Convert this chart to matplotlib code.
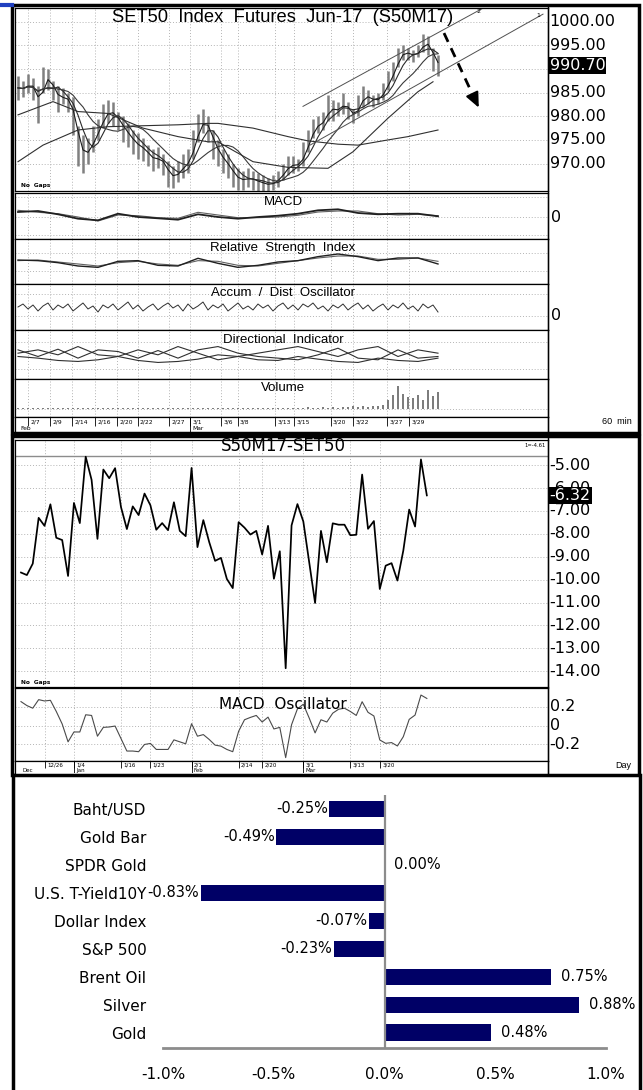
import numpy as np
import pandas as pd
import matplotlib
matplotlib.use("Agg")
import matplotlib.pyplot as plt
from matplotlib.patches import Rectangle

plt.rcParams['font.family'] = ['DejaVu Sans']

W, H = 643, 1090

# ------------------------------------------------------
# SET50 futures, 60 min chart (~2 bars a day)
bar_high = [988.5, 987.5, 989.0, 988.0, 986.5, 990.5, 990.0, 987.5, 986.5, 986.0,
            985.0, 984.0, 978.0, 976.0, 975.5, 978.0, 979.5, 982.5, 983.5, 983.0,
            981.0, 980.0, 978.5, 977.0, 976.5, 975.5, 974.0, 973.0, 973.5, 972.0,
            970.5, 969.5, 970.5, 972.0, 973.0, 977.0, 980.5, 981.5, 980.0, 977.0,
            975.0, 973.0, 972.0, 970.0, 969.0, 968.5, 969.0, 968.5, 968.0, 967.5,
            967.0, 967.5, 968.5, 970.0, 971.5, 971.5, 971.0, 974.5, 977.0, 979.5,
            980.0, 981.0, 984.5, 983.5, 983.0, 985.0, 983.0, 981.5, 984.5, 986.5,
            985.5, 984.5, 985.0, 987.0, 989.5, 991.5, 994.5, 995.0, 994.5, 994.0,
            995.0, 997.5, 997.0, 994.5, 993.0]
bar_low = [983.5, 984.0, 985.0, 983.5, 978.5, 985.0, 985.5, 983.5, 981.0, 982.5,
           981.0, 976.0, 969.5, 968.0, 970.0, 972.5, 975.0, 977.5, 978.5, 978.0,
           977.0, 974.5, 973.5, 972.0, 971.0, 970.5, 969.5, 968.5, 969.0, 967.5,
           965.0, 964.8, 966.0, 967.0, 968.0, 971.0, 974.5, 976.5, 974.5, 971.0,
           969.5, 968.0, 967.0, 965.0, 964.5, 964.5, 965.0, 964.5, 964.3, 964.0,
           964.0, 964.5, 965.0, 966.5, 967.5, 968.0, 968.5, 969.5, 972.5, 975.5,
           976.5, 977.0, 979.0, 979.0, 980.0, 980.5, 979.5, 978.5, 980.0, 982.0,
           982.5, 982.0, 982.5, 983.5, 985.5, 987.5, 990.5, 992.0, 992.0, 991.5,
           992.5, 993.5, 993.0, 989.5, 988.5]
last_price = 990.70

ma_long_idx = [0, 5, 12, 18, 25, 32, 38, 40, 47, 54, 58, 64, 68, 74, 78, 84]
ma_long = [970.4, 973.9, 977.1, 977.8, 978.0, 978.2, 978.5, 978.5, 977.5, 975.7,
           974.8, 974.1, 973.9, 975.0, 975.7, 977.1]
ma_mid_idx = [0, 7, 12, 18, 25, 32, 38, 40, 47, 54, 62, 67, 74, 80, 83]
ma_mid = [980.3, 983.1, 981.0, 980.6, 977.5, 975.7, 974.6, 974.6, 970.4, 969.2,
          969.0, 972.5, 979.6, 985.2, 987.3]

trend_1 = [(58.4, 973.9), (105.0, 1001.6)]
trend_2 = [(57.0, 982.1), (93.4, 1003.1)]
arrow_path = [(85.2, 997.6), (92.4, 981.3)]

price_levels = [1000, 995, 990, 985, 980, 975, 970]

hour_dates = ['2/7', '2/9', '2/14', '2/16', '2/20', '2/22', '2/27', '3/1',
              '3/6', '3/8', '3/13', '3/15', '3/20', '3/22', '3/27', '3/29']
hour_date_idx = [2, 6.3, 10.8, 15.4, 19.8, 23.9, 30.1, 34.4,
                 40.6, 43.9, 51.4, 55.2, 62.5, 67.0, 73.8, 78.2]
hour_months = ['Feb', 'Mar']
hour_month_idx = [0, 34.4]

# indicators sampled every 4th bar
ind_idx = list(range(0, 85, 4))
macd_line = [0.50, 0.60, 0.27, -0.17, -0.33, 0.33, 0.0, -0.13, -0.27, 0.27, 0.0,
             -0.17, 0.0, 0.13, 0.33, 0.67, 0.77, 0.40, 0.27, 0.33, 0.33, 0.07]
macd_signal = [0.67, 0.47, 0.33, 0.0, -0.40, 0.20, 0.13, -0.07, -0.13, 0.47, 0.20,
               -0.07, -0.07, 0.0, 0.17, 0.50, 0.60, 0.60, 0.33, 0.20, 0.27, 0.13]
rsi = [53.3, 51.9, 47.4, 40.0, 37.0, 50.4, 51.9, 41.5, 40.0, 57.1, 45.9,
       37.0, 41.5, 48.9, 51.9, 60.8, 66.7, 60.8, 51.9, 57.8, 57.8, 44.5]
rsi_ma = [51.9, 53.3, 48.9, 44.5, 40.0, 47.4, 50.4, 44.5, 41.5, 51.9, 50.4,
          41.5, 40.0, 45.9, 51.9, 57.8, 62.2, 62.2, 54.8, 54.8, 57.8, 50.4]
di_plus = [31.2, 35.2, 29.2, 39.2, 29.2, 27.2, 35.2, 29.2, 39.2, 31.2, 23.2,
           27.2, 31.2, 35.2, 39.2, 33.2, 27.2, 35.2, 39.2, 27.2, 35.2, 31.2]
di_minus = [35.2, 27.2, 36.0, 25.2, 35.2, 33.2, 25.2, 34.4, 25.2, 35.2, 39.2,
            31.2, 27.2, 25.2, 23.2, 29.2, 37.2, 25.2, 23.2, 35.2, 25.2, 27.2]
adx = [27.2, 25.2, 22.4, 21.2, 23.2, 27.2, 22.4, 20.0, 21.2, 24.0, 29.2,
       27.2, 23.2, 22.4, 27.2, 24.0, 21.2, 20.0, 25.2, 22.4, 21.2, 25.2]

ad_osc = [9, 12, 7, 11, 5, 10, 13, 6, 11, 8,
          12, 5, 9, 13, 7, 10, 4, 11, 8, 12,
          6, 10, 14, 7, 11, 5, 9, 12, 6, 10,
          13, 8, 11, 5, 12, 7, 10, 14, 6, 11,
          8, 12, 5, 9, 13, 7, 10, 6, 12, 8,
          11, 5, 10, 13, 7, 11, 6, 12, 9, 13,
          7, 10, 5, 11, 8, 12, 6, 10, 13, 7,
          11, 5, 9, 12, 6, 11, 8, 13, 7, 10,
          5, 12, 8, 11, 4]

volume_k = [1.0, 0.8, 1.2, 0.9, 1.1, 1.0, 0.7, 1.3, 1.0, 0.9,
            1.2, 1.4, 1.1, 0.9, 1.0, 0.8, 1.2, 1.0, 0.9, 1.1,
            1.0, 1.3, 0.9, 1.0, 0.8, 1.1, 1.2, 1.0, 0.9, 1.4,
            1.1, 1.0, 1.2, 0.9, 1.3, 1.5, 1.1, 1.0, 1.2, 0.9,
            1.0, 1.1, 0.8, 1.0, 1.2, 0.9, 1.1, 1.3, 1.0, 0.9,
            1.2, 1.0, 1.1, 1.4, 1.2, 1.0, 1.5, 1.3, 1.6, 1.2,
            1.4, 1.8, 1.5, 2.0, 1.5, 2.5, 2.0, 3.0, 2.5, 3.0,
            2.5, 3.0, 3.5, 4.0, 9, 14, 23, 15, 12, 11,
            14, 9, 19, 13, 17]

# ------------------------------------------------------
# S50M17 - SET50 basis, daily 20 Dec 2016 - 30 Mar 2017
basis = [-9.69, -9.80, -9.30, -7.30, -7.65, -6.71, -8.17, -8.27, -9.84, -6.65,
         -7.53, -4.63, -5.64, -8.22, -5.19, -5.57, -5.13, -6.83, -7.79, -6.80,
         -7.18, -6.24, -6.75, -7.82, -7.53, -7.84, -6.62, -7.87, -8.10, -5.12,
         -8.58, -7.40, -8.36, -9.18, -9.05, -9.97, -10.37, -7.49, -7.73, -8.03,
         -7.87, -8.90, -7.65, -9.96, -8.76, -13.87, -7.63, -6.70, -7.46, -9.24,
         -11.02, -7.87, -9.24, -7.54, -7.60, -7.60, -8.06, -8.04, -5.41, -7.78,
         -7.44, -10.41, -9.39, -9.28, -10.04, -8.73, -6.94, -7.68, -4.75, -6.32]
basis_max = -4.61
macd_osc = [0.256, 0.214, 0.186, 0.277, 0.263, 0.270, 0.151, 0.018, -0.172, -0.067,
            -0.067, 0.116, 0.109, -0.112, -0.018, -0.014, -0.004, -0.137, -0.270, -0.270,
            -0.277, -0.200, -0.189, -0.253, -0.253, -0.253, -0.151, -0.172, -0.193, 0.021,
            -0.112, -0.095, -0.147, -0.207, -0.218, -0.253, -0.277, -0.060, 0.063, 0.088,
            0.109, 0.039, 0.091, -0.035, -0.018, -0.340, 0.010, 0.179, 0.228, 0.081,
            -0.077, 0.063, 0.039, 0.133, 0.175, 0.186, 0.151, 0.109, 0.255, 0.142,
            0.103, -0.152, -0.188, -0.180, -0.216, -0.117, 0.067, 0.113, 0.326, 0.290]
basis_levels = [-5, -6, -7, -8, -9, -10, -11, -12, -13, -14]
osc_levels = [0.2, 0, -0.2]
day_dates = ['12/26', '1/4', '1/16', '1/23', '2/1', '2/14', '2/20', '3/1', '3/13', '3/20']
day_date_idx = [4, 9, 17, 22, 29, 37, 41, 48, 56, 61]
day_months = ['Dec', 'Jan', 'Feb', 'Mar']
day_month_idx = [-0.2, 9, 29, 48]

# ------------------------------------------------------
# daily % change
assets = ['Baht/USD', 'Gold Bar', 'SPDR Gold', 'U.S. T-Yield10Y', 'Dollar Index',
          'S&P 500', 'Brent Oil', 'Silver', 'Gold']
pct_change = [-0.25, -0.49, 0.00, -0.83, -0.07, -0.23, 0.75, 0.88, 0.48]

# ------------------------------------------------------
fig = plt.figure(figsize=(W / 100, H / 100), dpi=100)

GRID = dict(color='#b4b4b4', lw=0.7, ls=(0, (1, 2)))


def px_axes(x0, y0, x1, y1):
    a = fig.add_axes([x0 / W, 1 - y1 / H, (x1 - x0) / W, (y1 - y0) / H])
    a.set_xticks([])
    a.set_yticks([])
    for s in a.spines.values():
        s.set_linewidth(0.9)
    return a


hx = np.arange(len(bar_high))
hx_lim = (-0.6, 106)

# price panel
ax = px_axes(15, 8, 548, 191)
ax.set_xlim(hx_lim)
ax.set_ylim(964.2, 1002.9)
for lv in price_levels:
    ax.axhline(lv, **GRID)
for d in hour_date_idx:
    ax.axvline(d, **GRID)
ax.vlines(hx, bar_low, bar_high, color='#808080', lw=1.8)
typical = (pd.Series(bar_high) + pd.Series(bar_low)) / 2
for w, c in [(2, '#1a1a1a'), (4, '#2a2a2a'), (9, '#3a3a3a')]:
    ax.plot(hx, typical.rolling(w, min_periods=1).mean(), color=c, lw=0.8)
ax.plot(ma_mid_idx, ma_mid, color='#303030', lw=0.8)
ax.plot(ma_long_idx, ma_long, color='#303030', lw=0.8)
for tl in (trend_1, trend_2):
    ax.plot([p[0] for p in tl], [p[1] for p in tl], color='#505050', lw=0.7)
ax.text(104, 1001.4, '1', fontsize=4.5, ha='center', va='center')
ax.text(92, 1002.2, '2', fontsize=4.5, ha='center', va='center')
ax.plot([arrow_path[0][0], arrow_path[1][0] - 0.6], [arrow_path[0][1], arrow_path[1][1] + 1.3],
        color='black', lw=2, ls=(0, (3.5, 2.5)))
ax.annotate('', xy=arrow_path[1], xytext=(arrow_path[1][0] - 1.0, arrow_path[1][1] + 2.2),
            arrowprops=dict(arrowstyle='-|>,head_width=0.4,head_length=0.9',
                            color='black', lw=1.5))
yt = ax.get_yaxis_transform()
for lv in price_levels:
    # the level under the last-price box is hidden in the source chart
    if abs(lv - last_price) < 1:
        continue
    ax.text(1.003, lv, f'{lv:.2f}', transform=yt, fontsize=11.5, va='center', ha='left')
ax.text(1.003, last_price, f'{last_price:.2f}', transform=yt, fontsize=11.5, va='center',
        ha='left', color='white', zorder=5,
        bbox=dict(facecolor='black', edgecolor='none', pad=0.8))
ax.text(0.012, 0.02, 'No  Gaps', transform=ax.transAxes, fontsize=4.2, fontweight='bold')


def panel(y0, y1, lo, hi, label, label_y):
    a = px_axes(15, y0, 548, y1)
    a.set_xlim(hx_lim)
    a.set_ylim(lo, hi)
    for d in hour_date_idx:
        a.axvline(d, **GRID)
    a.text(0.503, label_y, label, transform=a.transAxes, ha='center', va='center',
           fontsize=9.5, family='Liberation Sans')
    return a


a1 = panel(193, 239, -2.2, 2.4, 'MACD', 0.8)
for g in (2.0, 0.0, -1.8):
    a1.axhline(g, **GRID)
a1.plot(ind_idx, macd_signal, color='#606060', lw=0.8)
a1.plot(ind_idx, macd_line, color='#202020', lw=1.3)
a1.text(1.005, 0, '0', transform=a1.get_yaxis_transform(), fontsize=11.5, va='center')

a2 = panel(239, 284, 0, 100, 'Relative  Strength  Index', 0.8)
for g in (70, 30):
    a2.axhline(g, **GRID)
a2.plot(ind_idx, rsi_ma, color='#606060', lw=0.8)
a2.plot(ind_idx, rsi, color='#202020', lw=1.0)

a3 = panel(284, 330, -14, 32, 'Accum  /  Dist  Oscillator', 0.8)
for g in (0, 22):
    a3.axhline(g, **GRID)
a3.plot(hx, ad_osc, color='#303030', lw=0.7)
a3.text(1.005, 0, '0', transform=a3.get_yaxis_transform(), fontsize=11.5, va='center')

a4 = panel(330, 379, 0, 59.2, 'Directional  Indicator', 0.8)
for g in (45, 12):
    a4.axhline(g, **GRID)
a4.plot(ind_idx, di_plus, color='#303030', lw=0.8)
a4.plot(ind_idx, di_minus, color='#303030', lw=0.8)
a4.plot(ind_idx, adx, color='#303030', lw=0.8)

a5 = panel(379, 417, -8, 30, 'Volume', 0.75)
a5.axhline(0, **GRID)
a5.vlines(hx, 0, volume_k, color='#707070', lw=1.3)

band = px_axes(15, 417, 548, 433)
band.set_xlim(hx_lim)
band.set_ylim(1, 0)
band.spines['bottom'].set_visible(False)
for d, s in zip(hour_date_idx, hour_dates):
    band.vlines(d, 0, 0.55, color='black', lw=0.6)
    band.text(d + 0.5, 0.3, s, fontsize=4.3, va='center', ha='left')
for d, s in zip(hour_month_idx, hour_months):
    if d > 0:
        band.vlines(d, 0, 1, color='black', lw=0.6)
    band.text(d + 0.5, 0.75, s, fontsize=4.3, va='center', ha='left')

# ------------------------------------------------------
# basis chart
dx = np.arange(len(basis))
dx_lim = (-1.02, 89.6)
b1 = px_axes(15, 440, 548, 687)
b1.set_xlim(dx_lim)
b1.set_ylim(-14.69, -3.90)
for lv in basis_levels:
    b1.axhline(lv, **GRID)
for d in day_date_idx:
    b1.axvline(d, **GRID)
b1.axhline(basis_max, color='#8c8c8c', lw=1.0)
b1.text(89.3, basis_max + 0.45, f'1={basis_max:.2f}', fontsize=3.8, ha='right', va='center')
b1.plot(dx, basis, color='black', lw=1.25)
b1.text(0.503, 0.975, 'S50M17-SET50', transform=b1.transAxes, ha='center', va='center',
        fontsize=12)
byt = b1.get_yaxis_transform()
for lv in basis_levels:
    b1.text(1.003, lv, f'{lv:.2f}', transform=byt, fontsize=11.5, va='center', ha='left')
b1.text(1.003, basis[-1], f'{basis[-1]:.2f}', transform=byt, fontsize=11.5, va='center',
        ha='left', color='white', zorder=5,
        bbox=dict(facecolor='black', edgecolor='none', pad=0.8))
b1.text(0.012, 0.012, 'No  Gaps', transform=b1.transAxes, fontsize=4.2, fontweight='bold')

b2 = px_axes(15, 688, 548, 761)
b2.set_xlim(dx_lim)
b2.set_ylim(-0.376, 0.401)
for lv in osc_levels:
    b2.axhline(lv, **GRID)
for d in day_date_idx:
    b2.axvline(d, **GRID)
b2.plot(dx, macd_osc, color='#4a4a4a', lw=0.8)
b2.text(0.503, 0.78, 'MACD  Oscillator', transform=b2.transAxes, ha='center', va='center',
        fontsize=11)
for lv in osc_levels:
    b2.text(1.003, lv, f'{lv:g}', transform=b2.get_yaxis_transform(), fontsize=11.5,
            va='center', ha='left')

band2 = px_axes(15, 761, 548, 773)
band2.set_xlim(dx_lim)
band2.set_ylim(1, 0)
band2.spines['bottom'].set_visible(False)
for d, s in zip(day_date_idx, day_dates):
    band2.vlines(d, 0, 0.55, color='black', lw=0.6)
    band2.text(d + 0.4, 0.3, s, fontsize=4.0, va='center', ha='left')
for d, s in zip(day_month_idx, day_months):
    if d > 0:
        band2.vlines(d, 0, 1, color='black', lw=0.6)
    band2.text(d + 0.4, 0.78, s, fontsize=4.0, va='center', ha='left')

# ------------------------------------------------------
# % change bars
c = px_axes(163, 795, 606, 1048)
ypos = np.arange(len(assets))
c.barh(ypos, pct_change, height=0.6, color='#000066')
c.set_xlim(-1.0, 1.0)
c.set_ylim(len(assets) - 0.46, -0.5)
for s in ('top', 'right', 'left'):
    c.spines[s].set_visible(False)
c.spines['bottom'].set_color('#8c8c8c')
c.spines['bottom'].set_linewidth(2)
c.axvline(0, color='#8c8c8c', lw=1.6)
c.set_yticks(ypos)
c.set_yticklabels(assets, fontsize=11)
c.set_xticks([-1.0, -0.5, 0.0, 0.5, 1.0])
c.set_xticklabels(['-1.0%', '-0.5%', '0.0%', '0.5%', '1.0%'], fontsize=11)
c.tick_params(axis='y', length=0, pad=12)
c.tick_params(axis='x', length=0, pad=14)
for i, v in enumerate(pct_change):
    if v < 0:
        c.text(v - 0.006, i, f'{v:.2f}%', ha='right', va='center', fontsize=10.5)
    else:
        c.text(v + 0.045, i, f'{v:.2f}%', ha='left', va='center', fontsize=10.5)

# ------------------------------------------------------
# frames and free text in pixel space
ov = fig.add_axes([0, 0, 1, 1], zorder=10)
ov.set_xlim(0, W)
ov.set_ylim(H, 0)
ov.axis('off')
ov.add_patch(Rectangle((12, 5), 627, 428, fill=False, lw=2.5, ec='black'))
ov.add_patch(Rectangle((12, 436), 627, 339, fill=False, lw=2.5, ec='black'))
ov.plot([548, 548], [5, 433], color='black', lw=1)
ov.plot([548, 548], [436, 775], color='black', lw=1)
ov.plot([13, 13], [775, 1090], color='black', lw=2.5)
ov.plot([640, 640], [775, 1090], color='black', lw=2.5)
ov.plot([0, 12], [5, 5], color='#2040c0', lw=3)
ov.text(283, 18, 'SET50  Index  Futures  Jun-17  (S50M17)', ha='center', va='center',
        fontsize=13.2, family='Liberation Sans')
ov.text(617, 422, '60  min', ha='center', va='center', fontsize=6.5, family='Liberation Sans')
ov.text(623, 766, 'Day', ha='center', va='center', fontsize=6.5, family='Liberation Sans')

fig.savefig('out.png', dpi=100)
